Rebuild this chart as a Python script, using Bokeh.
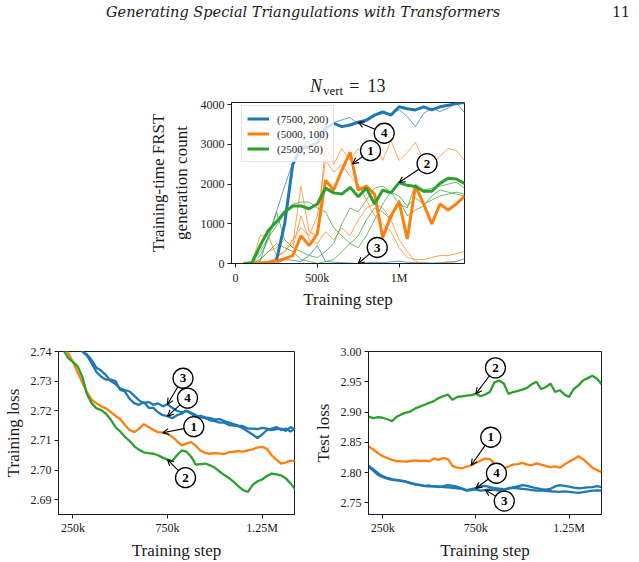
import math

from bokeh.core.properties import value
from bokeh.embed import file_html
from bokeh.layouts import column, row
from bokeh.models import (Arrow, Div, FixedTicker, Legend, LegendItem,
                          NumeralTickFormatter, OpenHead, Range1d)
from bokeh.plotting import figure
from bokeh.resources import INLINE

BLUE, ORANGE, GREEN = "#1f77b4", "#ff7f0e", "#2ca02c"
SERIF = "Liberation Serif"
INK = "#1a1a1a"

# ---------------- top panel: FRST generation counts (N_vert = 13) ----------------
gen_steps = list(range(50_000, 1_400_001, 50_000))

blue_bold = [0, 0, 0, 0, 80, 1000, 2500, 2900, 2950, 3050, 3400, 3530, 3450, 3490,
             3560, 3610, 3740, 3820, 3740, 3950, 3900, 3870, 3950, 3870, 3950, 3990, 4030, 4060]
blue_run_a = [0, 0, 50, 700, 1300, 1950, 2550, 2950, 3050, 3250, 3450, 3550, 3620, 3680,
              3520, 3650, 3720, 3780, 3750, 3880, 3700, 3450, 3780, 3920, 3830, 3920, 4050, 3800]
blue_run_b = [0, 0, 0, 0, 0, 100, 80, 50, 200, 450, 50, 30, 20, 10,
              0, 20, 30, 20, 40, 60, 30, 20, 30, 10, 20, 30, 50, 120]

orange_bold = [0, 0, 10, 30, 60, 120, 200, 700, 450, 750, 2100, 1850, 2350, 2800,
               1850, 1950, 1750, 650, 1200, 1550, 620, 1950, 1500, 1000, 1500, 1350, 1500, 1700]
orange_run_a = [0, 0, 0, 50, 150, 300, 500, 1950, 800, 700, 3000, 2500, 2900, 2600,
                2900, 2700, 3050, 2600, 3100, 2600, 2800, 3050, 2600, 2500, 2700, 2900, 2850, 2600]
orange_run_b = [0, 0, 700, 700, 200, 300, 600, 900, 700, 1200, 2600, 2300, 2500, 2200,
                2000, 1600, 1200, 1000, 800, 400, 150, 100, 100, 150, 200, 200, 250, 300]
orange_run_c = [0, 0, 100, 300, 400, 600, 400, 1200, 600, 500, 800, 600, 900, 700,
                1100, 1400, 1500, 1400, 1100, 600, 300, 50, 0, 0, 0, 50, 0, 0]

green_bold = [0, 20, 450, 830, 1050, 1300, 1450, 1450, 1380, 1500, 1900, 1780, 1750, 1920,
              1680, 1900, 1500, 1850, 1780, 2040, 1970, 1940, 1820, 1820, 2020, 2150, 2130, 2020]
green_run_a = [0, 50, 300, 650, 950, 1250, 1500, 1550, 1550, 1400, 1300, 900, 700, 500,
               400, 700, 1100, 1500, 1800, 1700, 1450, 1650, 1500, 1600, 1700, 1750, 1800, 1750]
green_run_b = [0, 0, 200, 600, 1300, 600, 400, 300, 200, 150, 300, 500, 1000, 1400,
               1300, 1600, 1900, 1950, 1800, 1500, 1400, 2000, 1850, 1900, 1950, 2000, 2050, 1900]
green_run_c = [0, 0, 100, 300, 500, 400, 300, 100, 50, 0, 50, 100, 300, 500,
               700, 1100, 1400, 1300, 1100, 1600, 1200, 1350, 1450, 1700, 1850, 1800, 1750, 1700]

legend_labels = ["(7500, 200)", "(5000, 100)", "(2500, 50)"]
top_xticks = [0, 500_000, 1_000_000]
top_xtick_labels = ["0", "500k", "1M"]
top_yticks = [0, 1000, 2000, 3000, 4000]

# ---------------- bottom panels: training / test loss ----------------
loss_steps = list(range(175_000, 1_425_001, 25_000))

train_blue3 = [2.7480, 2.7465, 2.7450, 2.7435, 2.7418, 2.7400, 2.7390, 2.7370, 2.7345, 2.7335,
               2.7320, 2.7300, 2.7290, 2.7275, 2.7270, 2.7265, 2.7250, 2.7235, 2.7225, 2.7230,
               2.7220, 2.7225, 2.7215, 2.7222, 2.7210, 2.7200, 2.7195, 2.7200, 2.7190, 2.7180,
               2.7183, 2.7178, 2.7175, 2.7170, 2.7172, 2.7165, 2.7160, 2.7155, 2.7150, 2.7148,
               2.7140, 2.7140, 2.7138, 2.7142, 2.7140, 2.7135, 2.7138, 2.7140, 2.7132, 2.7145,
               2.7135]
train_blue4 = [2.7475, 2.7460, 2.7445, 2.7430, 2.7415, 2.7400, 2.7385, 2.7360, 2.7330, 2.7315,
               2.7305, 2.7305, 2.7300, 2.7270, 2.7265, 2.7240, 2.7225, 2.7220, 2.7230, 2.7210,
               2.7210, 2.7195, 2.7185, 2.7182, 2.7175, 2.7185, 2.7190, 2.7200, 2.7193, 2.7185,
               2.7178, 2.7175, 2.7168, 2.7165, 2.7160, 2.7160, 2.7152, 2.7150, 2.7148, 2.7140,
               2.7130, 2.7120, 2.7108, 2.7120, 2.7135, 2.7140, 2.7145, 2.7135, 2.7140, 2.7130,
               2.7140]
train_orange = [2.7460, 2.7425, 2.7395, 2.7365, 2.7330, 2.7295, 2.7262, 2.7237, 2.7225, 2.7215,
                2.7208, 2.7196, 2.7183, 2.7172, 2.7152, 2.7135, 2.7128, 2.7140, 2.7155, 2.7145,
                2.7135, 2.7128, 2.7126, 2.7122, 2.7112, 2.7098, 2.7083, 2.7090, 2.7094, 2.7082,
                2.7065, 2.7058, 2.7055, 2.7057, 2.7056, 2.7054, 2.7060, 2.7062, 2.7064, 2.7062,
                2.7066, 2.7070, 2.7076, 2.7078, 2.7072, 2.7050, 2.7035, 2.7022, 2.7026, 2.7032,
                2.7030]
train_green = [2.7440, 2.7405, 2.7378, 2.7365, 2.7350, 2.7315, 2.7255, 2.7225, 2.7208, 2.7202,
               2.7190, 2.7170, 2.7145, 2.7130, 2.7112, 2.7098, 2.7080, 2.7068, 2.7060, 2.7057,
               2.7055, 2.7050, 2.7042, 2.7035, 2.7030, 2.7050, 2.7066, 2.7062, 2.7045, 2.7018,
               2.7020, 2.7022, 2.7016, 2.7008, 2.6995, 2.6983, 2.6973, 2.6960, 2.6945, 2.6932,
               2.6926, 2.6950, 2.6962, 2.6968, 2.6980, 2.6988, 2.6985, 2.6982, 2.6972, 2.6955,
               2.6935]

test_blue3 = [2.8090, 2.8030, 2.7960, 2.7925, 2.7900, 2.7880, 2.7870, 2.7860, 2.7845, 2.7820,
              2.7810, 2.7795, 2.7775, 2.7770, 2.7775, 2.7770, 2.7760, 2.7755, 2.7745, 2.7740,
              2.7730, 2.7700, 2.7710, 2.7720, 2.7700, 2.7710, 2.7720, 2.7715, 2.7700, 2.7710,
              2.7735, 2.7745, 2.7740, 2.7730, 2.7720, 2.7710, 2.7700, 2.7705, 2.7695, 2.7690,
              2.7685, 2.7680, 2.7690, 2.7680, 2.7670, 2.7665, 2.7675, 2.7690, 2.7700, 2.7705,
              2.7700]
test_blue4 = [2.8110, 2.8050, 2.7990, 2.7940, 2.7910, 2.7890, 2.7880, 2.7865, 2.7850, 2.7830,
              2.7800, 2.7790, 2.7780, 2.7785, 2.7770, 2.7760, 2.7775, 2.7790, 2.7780, 2.7765,
              2.7740, 2.7710, 2.7725, 2.7740, 2.7770, 2.7780, 2.7760, 2.7740, 2.7735, 2.7720,
              2.7740, 2.7755, 2.7770, 2.7790, 2.7780, 2.7760, 2.7740, 2.7725, 2.7715, 2.7730,
              2.7770, 2.7790, 2.7780, 2.7765, 2.7750, 2.7740, 2.7745, 2.7755, 2.7760, 2.7775,
              2.7760]
test_orange = [2.8430, 2.8380, 2.8320, 2.8270, 2.8240, 2.8210, 2.8190, 2.8185, 2.8180, 2.8190,
               2.8200, 2.8190, 2.8195, 2.8185, 2.8230, 2.8210, 2.8240, 2.8220, 2.8110, 2.8080,
               2.8070, 2.8095, 2.8120, 2.8160, 2.8200, 2.8230, 2.8220, 2.8150, 2.8090, 2.8070,
               2.8100, 2.8130, 2.8140, 2.8160, 2.8130, 2.8120, 2.8150, 2.8130, 2.8110, 2.8090,
               2.8100, 2.8080, 2.8130, 2.8180, 2.8220, 2.8270, 2.8220, 2.8150, 2.8080, 2.8040,
               2.8005]
test_green = [2.8925, 2.8900, 2.8915, 2.8905, 2.8880, 2.8850, 2.8920, 2.8960, 2.8990, 2.9010,
              2.9060, 2.9090, 2.9120, 2.9150, 2.9180, 2.9230, 2.9260, 2.9290, 2.9200, 2.9250,
              2.9260, 2.9270, 2.9280, 2.9300, 2.9260, 2.9290, 2.9330, 2.9490, 2.9520, 2.9470,
              2.9300, 2.9330, 2.9350, 2.9370, 2.9400, 2.9460, 2.9500, 2.9380, 2.9410, 2.9470,
              2.9330, 2.9360, 2.9290, 2.9250, 2.9380, 2.9440, 2.9520, 2.9560, 2.9600, 2.9550,
              2.9460]

loss_xticks = [250_000, 750_000, 1_250_000]
loss_xtick_labels = ["250k", "750k", "1.25M"]
train_yticks = [2.69, 2.70, 2.71, 2.72, 2.73, 2.74]
test_yticks = [2.75, 2.80, 2.85, 2.90, 2.95, 3.00]

W = 639


def style(p, xlabel, ylabel, xticks, xlabels, yticks):
    p.grid.visible = False
    p.outline_line_color = INK
    p.outline_line_width = 1
    p.background_fill_color = "white"
    p.border_fill_color = "white"
    for ax in p.axis:
        ax.axis_line_color = INK
        ax.major_tick_line_color = INK
        ax.major_tick_out = 4
        ax.major_tick_in = 0
        ax.minor_tick_line_color = None
        ax.major_label_text_font = SERIF
        ax.major_label_text_font_size = "12px"
        ax.major_label_text_color = INK
        ax.major_label_standoff = 3
        ax.axis_label_text_font = SERIF
        ax.axis_label_text_font_size = "17px"
        ax.axis_label_text_font_style = "normal"
        ax.axis_label_text_color = INK
    p.xaxis.axis_label = xlabel
    p.yaxis.axis_label = ylabel
    p.xaxis.ticker = FixedTicker(ticks=xticks)
    p.xaxis.major_label_overrides = dict(zip(xticks, xlabels))
    p.yaxis.ticker = FixedTicker(ticks=yticks)


def callout(p, fw, fh, tip, dx, dy, label, r=10):
    """Circled number at (dx, dy) px from tip, with an open arrow to the tip."""
    ux = (p.x_range.end - p.x_range.start) / fw
    uy = (p.y_range.end - p.y_range.start) / fh
    d = math.hypot(dx, dy)
    k = 1 - r / d
    cx, cy = tip[0] + dx * ux, tip[1] - dy * uy
    sx, sy = tip[0] + dx * k * ux, tip[1] - dy * k * uy
    p.add_layout(Arrow(end=OpenHead(size=6, line_width=1.1, line_color="black"),
                       x_start=sx, y_start=sy, x_end=tip[0], y_end=tip[1],
                       line_width=1.1, line_color="black"))
    p.scatter([cx], [cy], marker="circle", size=2 * r, fill_color="white",
              line_color="black", line_width=1.3)
    p.text([cx], [cy], text=[label], text_align="center", text_baseline="middle",
           text_font=value(SERIF), text_font_style="bold", text_font_size="13px",
           text_color="black")


# ---------------- running head and panel title ----------------
HEAD_H = 96
head = Div(width=W, height=HEAD_H, margin=0, text=(
    f'<div style="position:relative;width:{W}px;height:{HEAD_H}px;color:{INK};">'
    '<span style="position:absolute;left:106px;top:5px;line-height:14px;white-space:nowrap;'
    "font-family:'DejaVu Serif';font-style:italic;font-size:14.5px;\">"
    'Generating Special Triangulations with Transformers</span>'
    '<span style="position:absolute;right:9px;top:5px;line-height:14px;'
    "font-family:'DejaVu Serif';font-size:14px;\">11</span>"
    '<span style="position:absolute;left:310px;top:78px;line-height:17px;white-space:nowrap;'
    f"font-family:'{SERIF}';font-size:18px;\">"
    '<i>N</i><span style="font-size:13px;position:relative;top:3px;margin-left:1px;">vert</span>'
    '<span style="margin-left:6px;">=</span><span style="margin-left:8px;">13</span></span>'
    '</div>'))

# ---------------- top panel ----------------
TOP_H, TOP_FW, TOP_FH, TOP_LEFT, TOP_TOP = 224, 233, 161, 231, 6
top = figure(width=W, height=TOP_H, x_range=Range1d(-25_000, 1_400_000), y_range=Range1d(0, 4058),
             output_backend="svg", toolbar_location=None,
             min_border_left=TOP_LEFT, min_border_right=W - TOP_LEFT - TOP_FW,
             min_border_top=TOP_TOP, min_border_bottom=TOP_H - TOP_TOP - TOP_FH)
style(top, "Training step", "Training-time FRST\ngeneration count",
      top_xticks, top_xtick_labels, top_yticks)
top.xaxis.axis_label_standoff = 2
top.yaxis.axis_label_standoff = 7

bold_renderers = []
for runs, color in [((blue_run_a, blue_run_b), BLUE),
                    ((orange_run_a, orange_run_b, orange_run_c), ORANGE),
                    ((green_run_a, green_run_b, green_run_c), GREEN)]:
    for run in runs:
        top.line(gen_steps, run, line_color=color, line_width=1, line_alpha=0.7)
for bold, color in [(blue_bold, BLUE), (orange_bold, ORANGE), (green_bold, GREEN)]:
    bold_renderers.append(top.line(gen_steps, bold, line_color=color, line_width=3))

legend = Legend(items=[LegendItem(label=lab, renderers=[r])
                       for lab, r in zip(legend_labels, bold_renderers)],
                location=(10, 101), padding=5, spacing=0, margin=0,
                glyph_width=22, glyph_height=15, label_height=15, label_standoff=8,
                label_text_font=SERIF, label_text_font_size="11px", label_text_color=INK,
                border_line_color="#cccccc", border_line_width=1,
                background_fill_color="white", background_fill_alpha=0.8)
top.add_layout(legend)

i750 = gen_steps.index(750_000)
i700 = gen_steps.index(700_000)
i1m = gen_steps.index(1_000_000)
peak_tip = (gen_steps[i700] + 0.3 * (gen_steps[i700 + 1] - gen_steps[i700]),
            orange_bold[i700] + 0.3 * (orange_bold[i700 + 1] - orange_bold[i700]))
callout(top, TOP_FW, TOP_FH, (gen_steps[i750], blue_bold[i750]), 26, 11, "4")
callout(top, TOP_FW, TOP_FH, peak_tip, 18, -13, "1")
callout(top, TOP_FW, TOP_FH, (gen_steps[i1m], green_bold[i1m]), 28, -19, "2")
callout(top, TOP_FW, TOP_FH, (gen_steps[i750], blue_run_b[i750]), 19, -16, "3")

# ---------------- bottom panels ----------------
BOT_H, BOT_FH, BOT_TOP = 242, 163, 31


def loss_panel(width, left, fw, xr, yr, ylabel, yticks, series, tips):
    p = figure(width=width, height=BOT_H, x_range=Range1d(*xr), y_range=Range1d(*yr),
               output_backend="svg", toolbar_location=None,
               min_border_left=left, min_border_right=width - left - fw,
               min_border_top=BOT_TOP, min_border_bottom=BOT_H - BOT_TOP - BOT_FH)
    style(p, "Training step", ylabel, loss_xticks, loss_xtick_labels, yticks)
    p.yaxis.formatter = NumeralTickFormatter(format="0.00")
    p.xaxis.major_label_standoff = 2
    p.xaxis.axis_label_standoff = 3
    p.yaxis.axis_label_standoff = 5
    for ys, color in series:
        p.line(loss_steps, ys, line_color=color, line_width=2.3)
    for ys, idx, dx, dy, lab in tips:
        callout(p, fw, BOT_FH, (loss_steps[idx], ys[idx]), dx, dy, lab)
    return p


j725 = loss_steps.index(725_000)
j750 = loss_steps.index(750_000)
j800 = loss_steps.index(800_000)

train = loss_panel(310, 58, 236, (174_000, 1_421_000), (2.685, 2.74), "Training loss",
                   train_yticks,
                   [(train_blue3, BLUE), (train_blue4, BLUE), (train_orange, ORANGE),
                    (train_green, GREEN)],
                   [(train_blue3, j750, 15.5, -26, "3"),
                    (train_blue4, j750, 20, -18, "4"),
                    (train_orange, j725, 31, -6, "1"),
                    (train_green, j750, 18, 18, "2")])

test = loss_panel(329, 53, 238, (174_000, 1_424_000), (2.7306, 3.0), "Test loss",
                  test_yticks,
                  [(test_blue3, BLUE), (test_blue4, BLUE), (test_orange, ORANGE),
                   (test_green, GREEN)],
                  [(test_green, j750, 20, -26, "2"),
                   (test_orange, j725, 20, -28, "1"),
                   (test_blue4, j750, 21, -15, "4"),
                   (test_blue3, j800, 19.5, 11, "3")])

page = column(head, top, row(train, test, spacing=0), spacing=0)
open("out.html", "w").write(file_html(page, INLINE))
